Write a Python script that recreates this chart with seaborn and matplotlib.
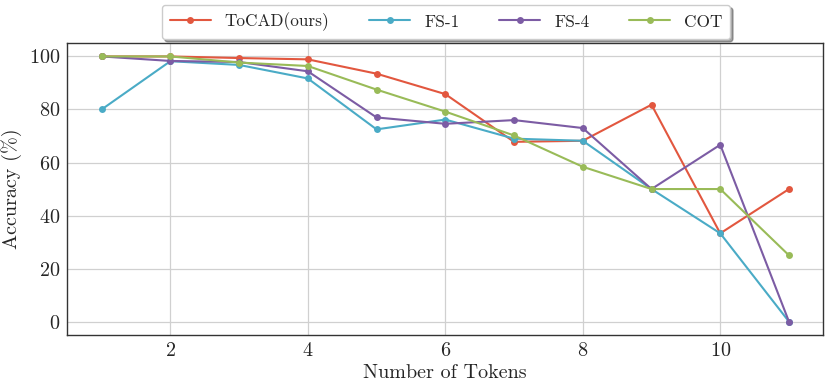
import numpy as np
import pandas as pd
import seaborn as sns
import matplotlib.pyplot as plt

# data
tokens = [1, 2, 3, 4, 5, 6, 7, 8, 9, 10, 11]
tocad = [100, 100, 99.4, 98.9, 93.5, 85.8, 67.8, 68.2, 81.8, 33.3, 50]
fs1 = [80, 98.2, 96.8, 91.7, 72.5, 76.2, 69.0, 68.2, 50, 33.3, 0]
fs4 = [100, 98.3, 97.9, 94.4, 77.0, 74.6, 76.0, 73.0, 50, 66.7, 0]
cot = [100, 100, 97.7, 96.4, 87.5, 79.2, 70.2, 58.4, 50, 50, 25]

methods = ['ToCAD(ours)', 'FS-1', 'FS-4', 'COT']
colors = ['#e2573f', '#4aabc6', '#7c5ca4', '#99bb58']

df = pd.DataFrame({'tokens': tokens * 4,
                   'acc': tocad + fs1 + fs4 + cot,
                   'method': np.repeat(methods, len(tokens))})

sns.set_style("whitegrid")
plt.rcParams['font.family'] = ['cmr10', 'DejaVu Serif']
plt.rcParams['axes.formatter.use_mathtext'] = True
plt.rcParams['mathtext.fontset'] = 'cm'

fig, ax = plt.subplots(figsize=(8.3, 3.89), dpi=100)
sns.lineplot(data=df, x='tokens', y='acc', hue='method', hue_order=methods,
             palette=colors, marker='o', markersize=5, markeredgewidth=0,
             linewidth=1.5, ax=ax)

ax.set_xticks([2, 4, 6, 8, 10])
ax.set_yticks([0, 20, 40, 60, 80, 100])
ax.set_xlabel('Number of Tokens', fontsize=14.5, labelpad=3)
ax.set_ylabel('Accuracy (%)', fontsize=14.5, labelpad=5)
ax.tick_params(labelsize=14.5, length=0, pad=5)
ax.grid(True, color='#d0d0d0', linewidth=0.9)
for s in ax.spines.values():
    s.set_color('#333333')
    s.set_linewidth(1.0)

ax.legend(loc='lower center', bbox_to_anchor=(0.501, 1.014), ncol=4,
          fontsize=12.4, frameon=True, shadow=True, fancybox=True,
          borderaxespad=0, columnspacing=2.3, handlelength=2.4,
          handletextpad=0.8, borderpad=0.45)

plt.subplots_adjust(left=0.081, right=0.992, top=0.889, bottom=0.139)
plt.savefig('out.png', dpi=100)
